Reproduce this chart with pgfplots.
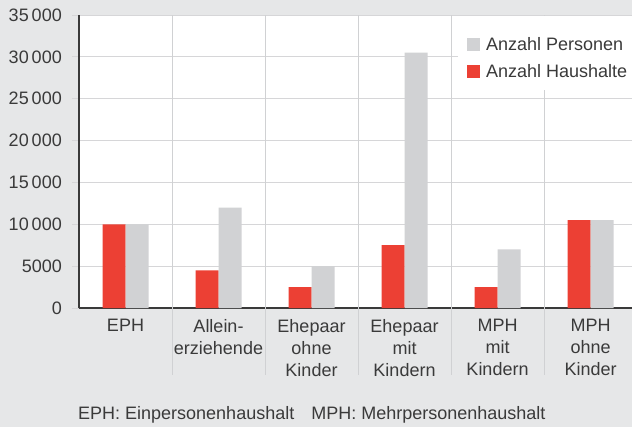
\documentclass[border=0pt]{standalone}
\usepackage{pgfplots}
\pgfplotsset{compat=1.18}
\usepackage{fontspec}
\setmainfont{Liberation Sans}
\definecolor{bgc}{RGB}{230,231,232}
\definecolor{gridc}{RGB}{214,214,216}
\definecolor{sepc}{RGB}{208,209,211}
\definecolor{redc}{RGB}{236,64,52}
\definecolor{greyc}{RGB}{209,210,212}
\definecolor{textc}{RGB}{58,58,58}
\newcommand\cf{\fontsize{18bp}{22bp}\selectfont}
\pgfplotsset{mybar/.style={ybar, bar width=23bp, draw=none,
  legend image code/.code={\fill[##1] (0bp,-6.5bp) rectangle (13bp,6.5bp);}}}
\begin{document}
\begin{tikzpicture}
\path[use as bounding box] (-79bp,-119bp) rectangle (553bp,308bp);
\fill[bgc] (-79bp,-119bp) rectangle (553bp,308bp);
\begin{axis}[
  scale only axis, width=553bp, height=293bp,
  xmin=-0.5, xmax=5.446, ymin=0, ymax=35000,
  clip=false,
  scaled y ticks=false,
  axis background/.style={fill=white},
  axis x line*=bottom, axis y line*=left,
  axis line style={draw=textc, line width=1.3bp},
  ytick={0,5000,...,35000},
  ymajorgrids, grid style={draw=gridc, line width=1bp},
  tick align=outside, major tick length=7bp,
  ytick style={draw=gridc, line width=1bp},
  xtick={0,...,5},
  xticklabels={EPH,Allein-\\erziehende,Ehepaar\\ohne\\Kinder,Ehepaar\\mit\\Kindern,MPH\\mit\\Kindern,MPH\\ohne\\Kinder},
  xtick style={draw=none},
  x tick label style={font=\cf, text=textc, align=center, anchor=north, inner sep=0pt, yshift=-4bp},
  y tick label style={font=\cf, text=textc, anchor=east, inner sep=0pt, xshift=-10bp},
  /pgf/number format/assume math mode=true,
  /pgf/number format/1000 sep={\,},
  /pgf/number format/min exponent for 1000 sep=4,
  reverse legend,
  legend style={at={(0.7016,0.924)}, anchor=north west, draw=none, fill=none,
    font=\cf, text=textc, inner sep=0pt, row sep=12bp,
    nodes={inner sep=0pt}},
  legend cell align=left,
  /tikz/every odd column/.append style={column sep=6bp},
]
\draw[sepc, line width=1bp] (axis cs:0.5,35000) -- ([yshift=-67bp]axis cs:0.5,0);
\draw[sepc, line width=1bp] (axis cs:1.5,35000) -- ([yshift=-67bp]axis cs:1.5,0);
\draw[sepc, line width=1bp] (axis cs:2.5,35000) -- ([yshift=-67bp]axis cs:2.5,0);
\draw[sepc, line width=1bp] (axis cs:3.5,35000) -- ([yshift=-67bp]axis cs:3.5,0);
\draw[sepc, line width=1bp] (axis cs:4.5,35000) -- ([yshift=-67bp]axis cs:4.5,0);
\fill[white] (rel axis cs:0.6854,0.744) rectangle (rel axis cs:1,0.996);
\addplot[mybar, fill=redc, bar shift=-11.5bp] coordinates {(0,10000) (1,4500) (2,2500) (3,7500) (4,2500) (5,10500)};
\addlegendentry{Anzahl Haushalte}
\addplot[mybar, fill=greyc, bar shift=11.5bp] coordinates {(0,10000) (1,12000) (2,5000) (3,30500) (4,7000) (5,10500)};
\addlegendentry{Anzahl Personen}
\end{axis}
\node[anchor=base west, font=\cf, text=textc, inner sep=0pt] at (-1bp,-111bp) {EPH: Einpersonenhaushalt\hspace{12bp} MPH: Mehrpersonenhaushalt};
\end{tikzpicture}
\end{document}
